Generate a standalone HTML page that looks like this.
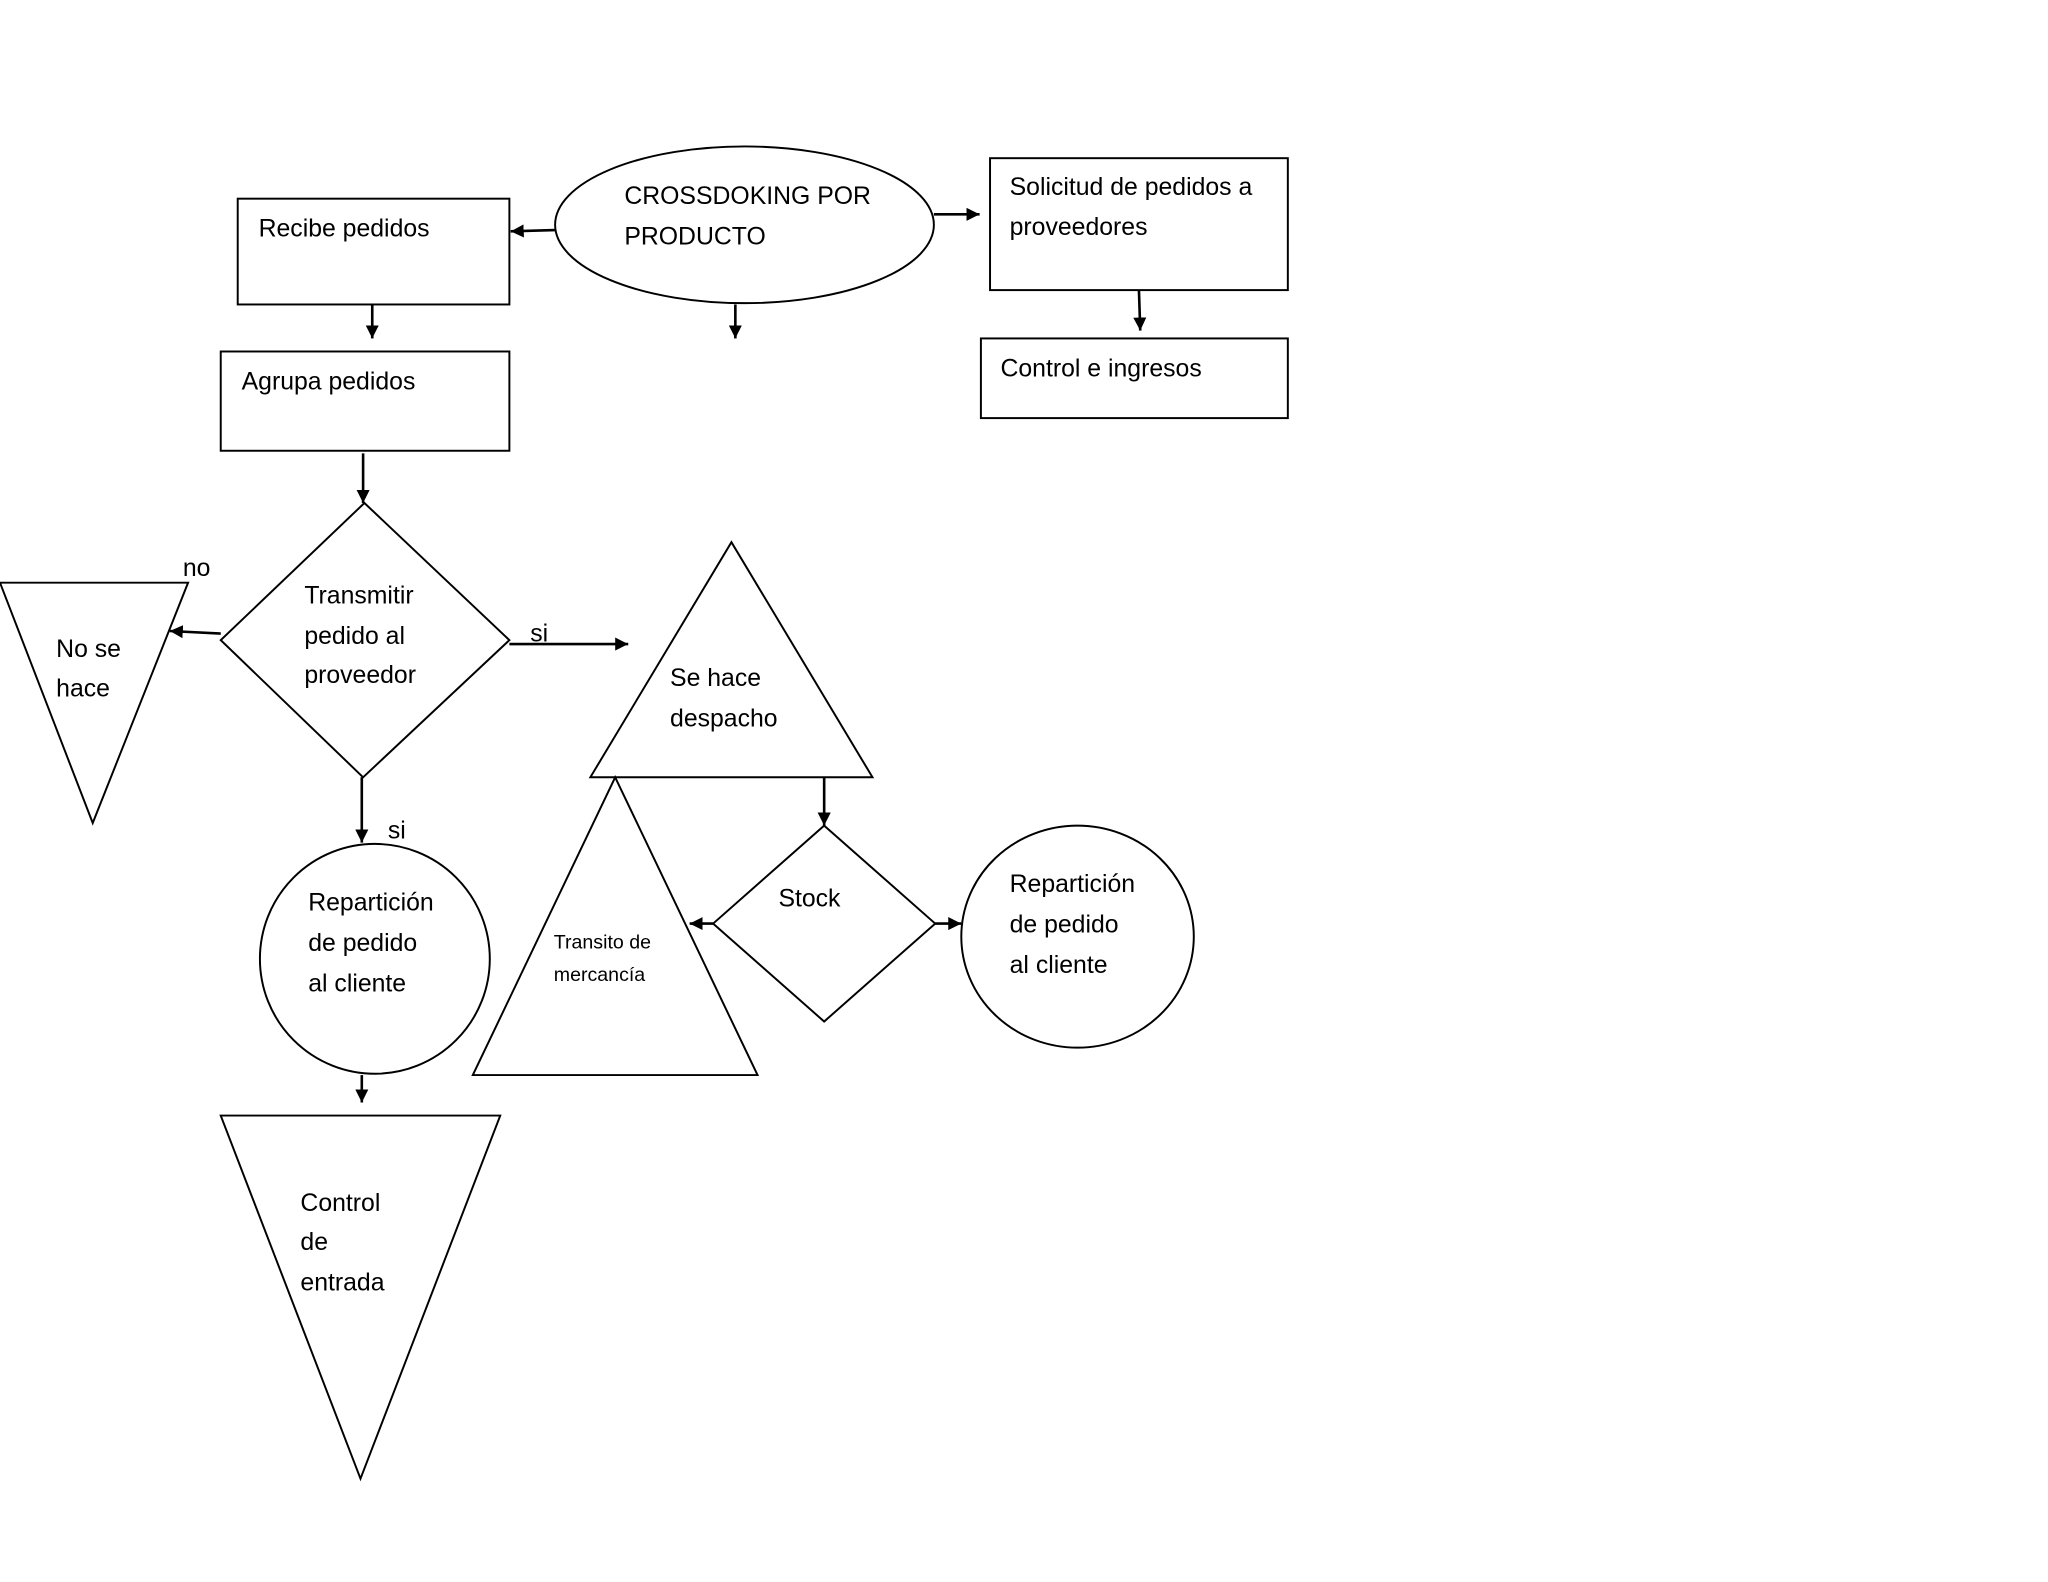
<!DOCTYPE html>
<html><head><meta charset="utf-8"><style>html,body{margin:0;padding:0;background:#fff}svg{display:block}</style></head>
<body>
<svg width="2048" height="1582" viewBox="0 0 1568 1211" xmlns="http://www.w3.org/2000/svg">
<defs><marker id="a" viewBox="0 0 10 10" refX="10" refY="5" markerWidth="5" markerHeight="5" orient="auto-start-reverse"><path d="M0,0L10,5L0,10z" fill="#000"/></marker></defs>
<g fill="none" stroke="#000" stroke-width="1.5">
<ellipse cx="570" cy="172" rx="145" ry="60"/>
<rect x="182" y="152" width="208" height="81"/>
<rect x="758" y="121" width="228" height="101"/>
<rect x="751" y="259" width="235" height="61"/>
<rect x="169" y="269" width="221" height="76"/>
<polygon points="279,385 390,490 278,595 169,490"/>
<polygon points="0,446 144,446 71,630"/>
<polygon points="560,415 668,595 452,595"/>
<polygon points="631,632 716,707 631,782 546,707"/>
<polygon points="471,595 580,823 362,823"/>
<ellipse cx="825" cy="717" rx="89" ry="85"/>
<circle cx="287" cy="734" r="88"/>
<polygon points="169,854 383,854 276,1132"/>
</g>
<g stroke="#000" stroke-width="2" marker-end="url(#a)">
<line x1="425" y1="176" x2="391" y2="177"/>
<line x1="715" y1="164" x2="750" y2="164"/>
<line x1="872" y1="222" x2="873" y2="253"/>
<line x1="563" y1="233" x2="563" y2="259"/>
<line x1="285" y1="233" x2="285" y2="259"/>
<line x1="278" y1="347" x2="278" y2="385"/>
<line x1="169" y1="485" x2="130" y2="483"/>
<line x1="390" y1="493" x2="481" y2="493"/>
<line x1="631" y1="595" x2="631" y2="632"/>
<line x1="546" y1="707" x2="528" y2="707"/>
<line x1="716" y1="707" x2="736" y2="707"/>
<line x1="277" y1="595" x2="277" y2="645"/>
<line x1="277" y1="823" x2="277" y2="844"/>
</g>
<g font-family="Liberation Sans, sans-serif" font-size="19" fill="#000">
<text x="478" y="156">CROSSDOKING POR</text>
<text x="478" y="187">PRODUCTO</text>
<text x="198" y="181">Recibe pedidos</text>
<text x="773" y="149">Solicitud de pedidos a</text>
<text x="773" y="180">proveedores</text>
<text x="766" y="288">Control e ingresos</text>
<text x="185" y="298">Agrupa pedidos</text>
<text x="140" y="441">no</text>
<text x="233" y="462">Transmitir</text>
<text x="233" y="493">pedido al</text>
<text x="233" y="523">proveedor</text>
<text x="43" y="503">No se</text>
<text x="43" y="533">hace</text>
<text x="406" y="491">si</text>
<text x="513" y="525">Se hace</text>
<text x="513" y="556">despacho</text>
<text x="596" y="694">Stock</text>
<text x="424" y="726" font-size="15">Transito de</text>
<text x="424" y="751" font-size="15">mercancía</text>
<text x="773" y="683">Repartición</text>
<text x="773" y="714">de pedido</text>
<text x="773" y="745">al cliente</text>
<text x="297" y="642">si</text>
<text x="236" y="697">Repartición</text>
<text x="236" y="728">de pedido</text>
<text x="236" y="759">al cliente</text>
<text x="230" y="927">Control</text>
<text x="230" y="957">de</text>
<text x="230" y="988">entrada</text>
</g>
</svg>
</body></html>
